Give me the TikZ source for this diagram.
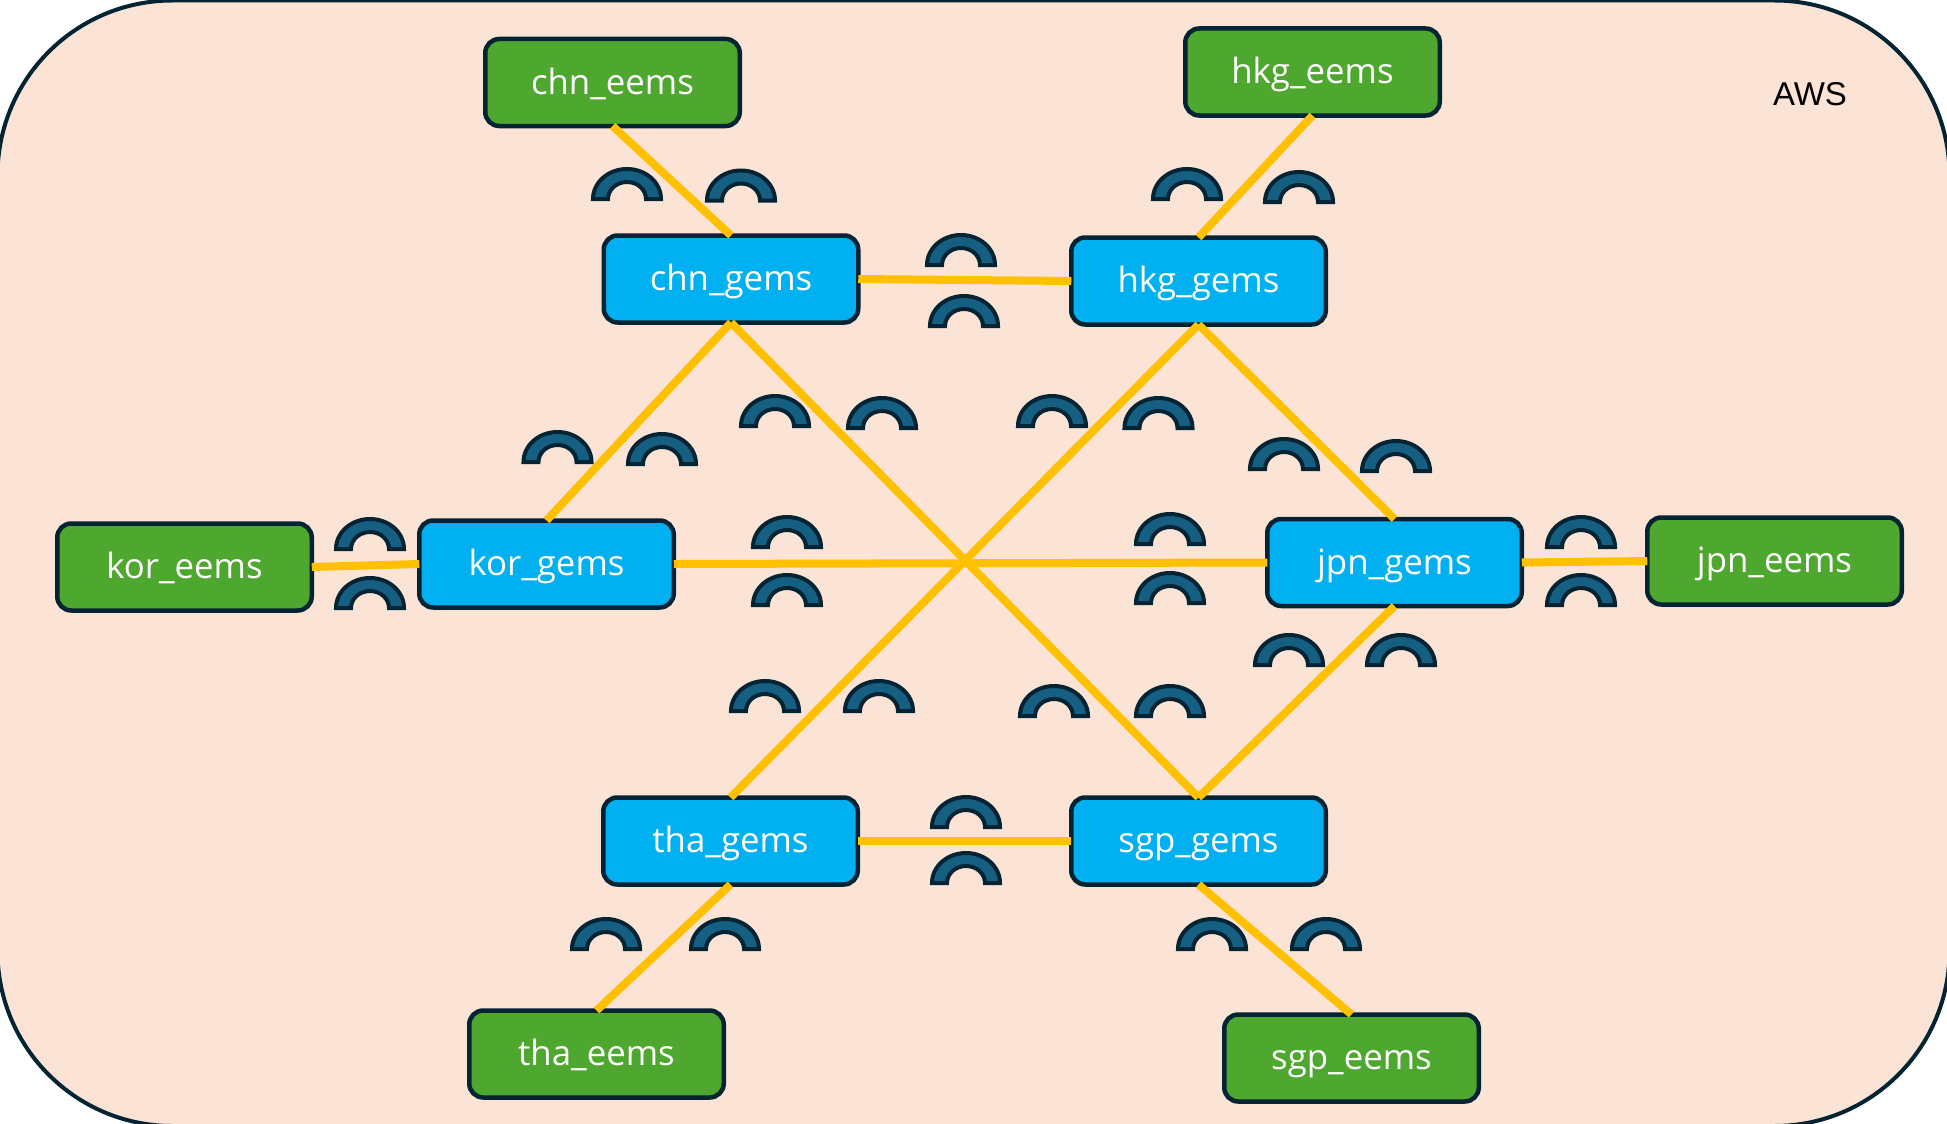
\documentclass[tikz,border=0pt]{standalone}
\usepackage{fontspec}
\setmainfont{Open Sans}
\newfontfamily\awsfont{Liberation Sans}
\definecolor{bgfill}{HTML}{FBE3D6}
\definecolor{edge}{HTML}{042433}
\definecolor{gemsfill}{HTML}{00B0F0}
\definecolor{eemsfill}{HTML}{4EA72E}
\definecolor{linkcol}{HTML}{FFC000}
\definecolor{arcfill}{HTML}{156082}
\tikzset{
  box/.style={draw=edge,line width=4.5pt,rounded corners=14pt,minimum width=254.5pt,minimum height=87pt,inner sep=0pt,outer sep=0pt,text=white,text height=31.4pt,text depth=8pt,font=\fontsize{34.8}{40}\selectfont},
  gems/.style={box,fill=gemsfill},
  eems/.style={box,fill=eemsfill},
  link/.style={draw=linkcol,line width=8pt},
  gap/.pic={\draw[draw=edge,fill=arcfill,line width=4pt] (-34,-2) arc (180:360:34 and 30) -- (19,-2) arc (360:180:19 and 17) -- cycle;}
}
\begin{document}
\begin{tikzpicture}[x=1pt,y=-1pt]
\useasboundingbox (0,0) rectangle (1947,1124);
\begin{scope}
\clip (0,0) rectangle (1947,1124);
\draw[draw=edge,fill=bgfill,line width=4pt,rounded corners=175pt] (-2.5,0.5) rectangle (1949.5,1126);
\end{scope}
\node[font=\awsfont\fontsize{33}{38}\selectfont,text=black] (aws) at (1810,94) {AWS};
% arcs
\foreach \px/\py in {627/201,741/202.5,1187/201,1299/204,961/267,964/328,557.5/464,662/466,775/428,882/430,1052/428,1158.5/430,1284/471,1396/473,370/551,370/610,787/549,787/607,1170/546,1170/605,1581/549,1581/607,765/713,879/713,1054/718,1170/718,1289/667,1401/667,966/829,966/885,606/951,725/951,1212/951,1326/951}
  \pic at (\px,\py) {gap};
% nodes
\node[eems] (chne) at (612.5,82.5) {chn\_eems};
\node[eems] (hkge) at (1312.5,72) {hkg\_eems};
\node[gems] (chng) at (731,279) {chn\_gems};
\node[gems] (hkgg) at (1198.5,281) {hkg\_gems};
\node[eems] (kore) at (184.5,567) {kor\_eems};
\node[gems] (korg) at (546.5,564) {kor\_gems};
\node[gems] (jpng) at (1394.5,562.5) {jpn\_gems};
\node[eems] (jpne) at (1774.5,561) {jpn\_eems};
\node[gems] (thag) at (730.5,841) {tha\_gems};
\node[gems] (sgpg) at (1198.5,841) {sgp\_gems};
\node[eems] (thae) at (596.5,1054) {tha\_eems};
\node[eems] (sgpe) at (1351.5,1058) {sgp\_eems};
% links
\draw[link] (chne.south) -- (chng.north);
\draw[link] (hkge.south) -- (hkgg.north);
\draw[link] (chng.east) -- (hkgg.west);
\draw[link] (chng.south) -- (korg.north);
\draw[link] (chng.south) -- (sgpg.north);
\draw[link] (hkgg.south) -- (thag.north);
\draw[link] (hkgg.south) -- (jpng.north);
\draw[link] (kore.east) -- (korg.west);
\draw[link] (korg.east) -- (jpng.west);
\draw[link] (jpng.east) -- (jpne.west);
\draw[link] (jpng.south) -- (sgpg.north);
\draw[link] (thag.east) -- (sgpg.west);
\draw[link] (thag.south) -- (thae.north);
\draw[link] (sgpg.south) -- (sgpe.north);
\end{tikzpicture}
\end{document}
